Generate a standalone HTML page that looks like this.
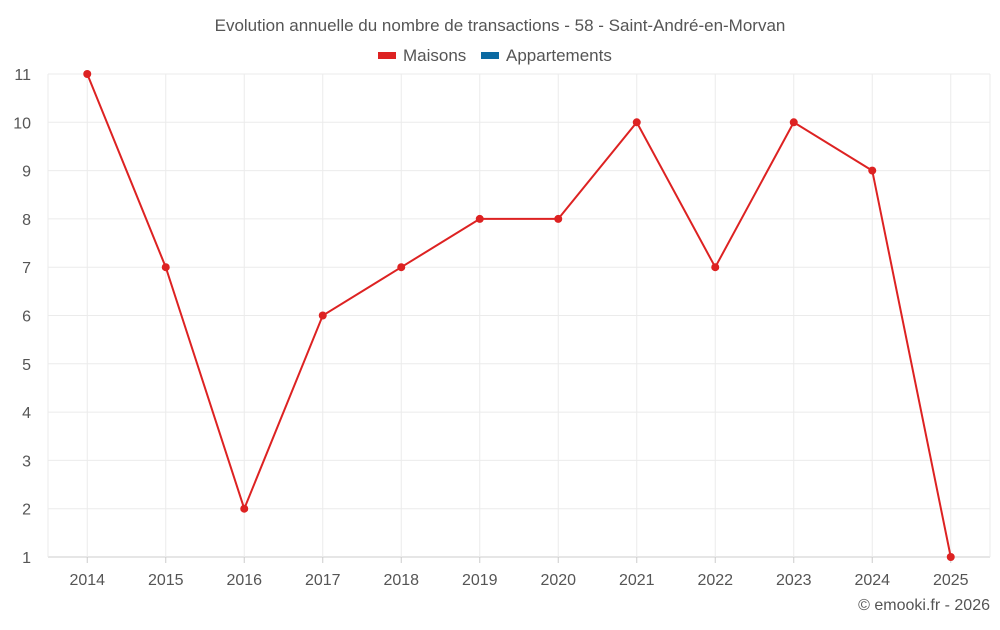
<!DOCTYPE html>
<html><head><meta charset="utf-8"><style>
body{margin:0;background:#fff;font-family:"Liberation Sans",sans-serif}
svg text{font-family:"Liberation Sans",sans-serif;fill:#555}
</style></head><body>
<svg id="c" width="1000" height="625">
<text x="500" y="31" text-anchor="middle" font-size="17">Evolution annuelle du nombre de transactions - 58 - Saint-André-en-Morvan</text>
<g>
<g><rect x="378" y="52" width="18" height="7" fill="#dd2222"/><text x="403" y="61" font-size="17">Maisons</text></g>
<g><rect x="481" y="52" width="18" height="7" fill="#0b6aa2"/><text x="506" y="61" font-size="17">Appartements</text></g>
</g>
<g id="grid"></g>
<g id="axes"></g>
<g id="series"></g>
<text x="990" y="610" text-anchor="end" font-size="16">© emooki.fr - 2026</text>
</svg>
<script>
const years=[2014,2015,2016,2017,2018,2019,2020,2021,2022,2023,2024,2025];
const maisons=[11,7,2,6,7,8,8,10,7,10,9,1];
const yTicks=[1,2,3,4,5,6,7,8,9,10,11];
const L=48,R=990,T=74,B=557,yMin=1,yMax=11;
const bw=(R-L)/years.length;
const x=i=>L+bw*(i+0.5);
const y=v=>B-(v-yMin)/(yMax-yMin)*(B-T);
const NS="http://www.w3.org/2000/svg";
function mk(t,a,p){const e=document.createElementNS(NS,t);for(const k in a)e.setAttribute(k,a[k]);p.appendChild(e);return e;}
const g=document.getElementById('grid'),ax=document.getElementById('axes'),s=document.getElementById('series');
yTicks.forEach(v=>{
 const l=mk('line',{x1:L,x2:R,y1:y(v),y2:y(v),stroke:v===yMin?'#ccc':'#ebebeb'},g);
 
 
 const t=mk('text',{x:31,y:y(v)+6,'text-anchor':'end','font-size':16},ax);t.textContent=v;
 
 
});
[L,R].forEach(xx=>{const l=mk('line',{x1:xx,x2:xx,y1:T,y2:B,stroke:'#ebebeb'},g);
 
 });
years.forEach((yr,i)=>{
 const l=mk('line',{x1:x(i),x2:x(i),y1:T,y2:B,stroke:'#ebebeb'},g);
 
 
 const k=mk('line',{x1:x(i),x2:x(i),y1:B,y2:B+6,stroke:'#ccc'},ax);
 
 
 const t=mk('text',{x:x(i),y:585,'text-anchor':'middle','font-size':16},ax);t.textContent=yr;
 
 
});
const pl=mk('polyline',{points:maisons.map((v,i)=>x(i)+','+y(v)).join(' '),fill:'none',stroke:'#dd2222','stroke-width':2},s);


maisons.forEach((v,i)=>{const c=mk('circle',{cx:x(i),cy:y(v),r:4,fill:'#dd2222'},s);
 
 });
</script>
</body></html>
